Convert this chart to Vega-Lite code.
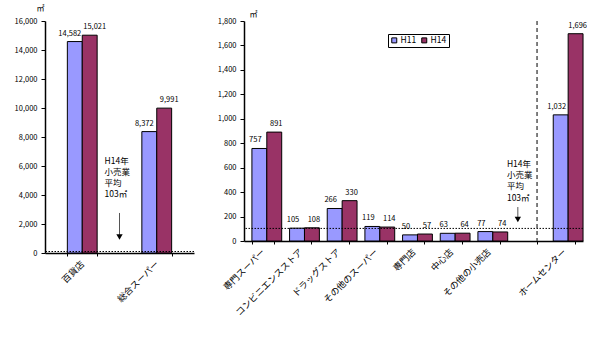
{
  "$schema": "https://vega.github.io/schema/vega-lite/v6.json",
  "padding": {"left": 14, "top": 4, "right": 0, "bottom": 0},
  "background": "white",
  "spacing": 19,
  "config": {
    "view": {"stroke": null},
    "font": "Noto Sans CJK JP",
    "axis": {"domainColor": "black", "tickColor": "black", "labelColor": "black", "grid": false, "labelFont": "Noto Sans CJK JP"},
    "text": {"font": "Noto Sans CJK JP", "color": "black"}
  },
  "datasets": {
    "left": [
      {"cat": "百貨店", "year": "H11", "value": 14582},
      {"cat": "百貨店", "year": "H14", "value": 15021},
      {"cat": "総合スーパー", "year": "H11", "value": 8372},
      {"cat": "総合スーパー", "year": "H14", "value": 9991}
    ],
    "right": [
      {"cat": "専門スーパー", "year": "H11", "value": 757},
      {"cat": "専門スーパー", "year": "H14", "value": 891},
      {"cat": "コンビニエンスストア", "year": "H11", "value": 105},
      {"cat": "コンビニエンスストア", "year": "H14", "value": 108},
      {"cat": "ドラッグストア", "year": "H11", "value": 266},
      {"cat": "ドラッグストア", "year": "H14", "value": 330},
      {"cat": "その他のスーパー", "year": "H11", "value": 119},
      {"cat": "その他のスーパー", "year": "H14", "value": 114},
      {"cat": "専門店", "year": "H11", "value": 50},
      {"cat": "専門店", "year": "H14", "value": 57},
      {"cat": "中心店", "year": "H11", "value": 63},
      {"cat": "中心店", "year": "H14", "value": 64},
      {"cat": "その他の小売店", "year": "H11", "value": 77},
      {"cat": "その他の小売店", "year": "H14", "value": 74},
      {"cat": "ホームセンター", "year": "H11", "value": 1032},
      {"cat": "ホームセンター", "year": "H14", "value": 1696}
    ],
    "leftNote": [{"x": 0.8, "value": 6620, "text": "H14年\n小売業\n平均\n103㎡"}],
    "leftArrow": [{"x": 1.0, "value": 2760, "y2": 1250, "tip": 1100}],
    "rightNote": [{"x": 6.98, "value": 665, "text": "H14年\n小売業\n平均\n103㎡"}],
    "rightArrow": [{"x": 7.27, "value": 278, "y2": 190, "tip": 175}],
    "rightDivider": [{"x": 7.78}],
    "avg": [{"value": 103}]
  },
  "hconcat": [
    {
      "width": 149,
      "height": 232,
      "layer": [
        {
          "data": {"name": "left"},
          "layer": [
            {
              "mark": {"type": "bar", "stroke": "black", "strokeWidth": 1},
              "encoding": {
                "x": {"field": "cat", "type": "nominal", "sort": null, "scale": {"domain": ["百貨店", "総合スーパー"], "paddingInner": 0.6, "paddingOuter": 0.3},
                  "axis": {"title": null, "labelAngle": -45, "labelAlign": "right", "labelBaseline": "middle", "labelFontSize": 9, "labelPadding": 6, "tickBand": "extent", "tickSize": 3, "domainWidth": 1.5}},
                "xOffset": {"field": "year", "type": "nominal", "scale": {"domain": ["H11", "H14"], "paddingInner": 0, "paddingOuter": 0}},
                "y": {"field": "value", "type": "quantitative", "scale": {"domain": [0, 16000]},
                  "axis": {"values": [0, 2000, 4000, 6000, 8000, 10000, 12000, 14000, 16000], "format": ",.0f", "labelFontSize": 7.5, "tickSize": 4, "labelPadding": 4, "domainWidth": 1.5, "minExtent": 30, "maxExtent": 30, "title": "㎡", "titleAngle": 0, "titleX": -5, "titleY": -9, "titleFontSize": 8, "titleFontWeight": "normal", "titleAlign": "center", "titleBaseline": "bottom"}},
                "color": {"field": "year", "type": "nominal", "scale": {"domain": ["H11", "H14"], "range": ["#9999FF", "#993366"]},
                  "legend": {"orient": "none", "legendX": 343, "legendY": 13, "direction": "horizontal", "title": null, "strokeColor": "black", "padding": 2, "symbolType": "square", "symbolSize": 25, "symbolStrokeColor": "black", "symbolStrokeWidth": 1, "labelFontSize": 8.5, "labelFont": "Noto Sans CJK JP", "labelOffset": 2, "columnPadding": 2, "symbolOpacity": 1}}
              }
            },
            {
              "transform": [{"filter": "datum.year == 'H11'"}],
              "mark": {"type": "text", "baseline": "bottom", "dy": -4, "dx": -5, "fontSize": 7.5, "color": "black"},
              "encoding": {
                "x": {"field": "cat", "type": "nominal", "sort": null, "scale": {"domain": ["百貨店", "総合スーパー"], "paddingInner": 0.6, "paddingOuter": 0.3}},
                "xOffset": {"field": "year", "type": "nominal", "scale": {"domain": ["H11", "H14"], "paddingInner": 0, "paddingOuter": 0}},
                "y": {"field": "value", "type": "quantitative",
                  "axis": {"values": [0, 2000, 4000, 6000, 8000, 10000, 12000, 14000, 16000], "format": ",.0f", "labelFontSize": 7.5, "tickSize": 4, "labelPadding": 4, "domainWidth": 1.5, "minExtent": 30, "maxExtent": 30, "title": "㎡", "titleAngle": 0, "titleX": -5, "titleY": -9, "titleFontSize": 8, "titleFontWeight": "normal", "titleAlign": "center", "titleBaseline": "bottom"}},
                "text": {"field": "value", "type": "quantitative", "format": ","}
              }
            },
            {
              "transform": [{"filter": "datum.year == 'H14'"}],
              "mark": {"type": "text", "baseline": "bottom", "dy": -4, "dx": 5, "fontSize": 7.5, "color": "black"},
              "encoding": {
                "x": {"field": "cat", "type": "nominal", "sort": null, "scale": {"domain": ["百貨店", "総合スーパー"], "paddingInner": 0.6, "paddingOuter": 0.3}},
                "xOffset": {"field": "year", "type": "nominal", "scale": {"domain": ["H11", "H14"], "paddingInner": 0, "paddingOuter": 0}},
                "y": {"field": "value", "type": "quantitative",
                  "axis": {"values": [0, 2000, 4000, 6000, 8000, 10000, 12000, 14000, 16000], "format": ",.0f", "labelFontSize": 7.5, "tickSize": 4, "labelPadding": 4, "domainWidth": 1.5, "minExtent": 30, "maxExtent": 30, "title": "㎡", "titleAngle": 0, "titleX": -5, "titleY": -9, "titleFontSize": 8, "titleFontWeight": "normal", "titleAlign": "center", "titleBaseline": "bottom"}},
                "text": {"field": "value", "type": "quantitative", "format": ","}
              }
            }
          ]
        },
        {
          "layer": [
            {
              "data": {"name": "avg"},
              "mark": {"type": "rule", "color": "black", "strokeDash": [1.5, 1.5], "strokeWidth": 1},
              "encoding": {"y": {"field": "value", "type": "quantitative", "axis": null}}
            },
            {
              "data": {"name": "leftNote"},
              "mark": {"type": "text", "align": "left", "baseline": "top", "lineBreak": "\n", "lineHeight": 11, "fontSize": 8.5, "color": "black"},
              "encoding": {
                "x": {"field": "x", "type": "quantitative", "scale": {"domain": [0, 2]}, "axis": null},
                "y": {"field": "value", "type": "quantitative", "axis": null},
                "text": {"field": "text"}
              }
            },
            {
              "data": {"name": "leftArrow"},
              "mark": {"type": "rule", "color": "#555555", "strokeWidth": 1},
              "encoding": {
                "x": {"field": "x", "type": "quantitative", "scale": {"domain": [0, 2]}, "axis": null},
                "y": {"field": "value", "type": "quantitative", "axis": null},
                "y2": {"field": "y2"}
              }
            },
            {
              "data": {"name": "leftArrow"},
              "mark": {"type": "point", "shape": "triangle-down", "filled": true, "color": "black", "size": 40, "opacity": 1},
              "encoding": {
                "x": {"field": "x", "type": "quantitative", "scale": {"domain": [0, 2]}, "axis": null},
                "y": {"field": "tip", "type": "quantitative", "axis": null}
              }
            }
          ]
        }
      ],
      "resolve": {"scale": {"x": "independent"}, "axis": {"y": "independent"}}
    },
    {
      "width": 339,
      "height": 220,
      "layer": [
        {
          "data": {"name": "right"},
          "layer": [
            {
              "mark": {"type": "bar", "stroke": "black", "strokeWidth": 1},
              "encoding": {
                "x": {"field": "cat", "type": "nominal", "sort": null, "scale": {"domain": ["専門スーパー", "コンビニエンスストア", "ドラッグストア", "その他のスーパー", "専門店", "中心店", "その他の小売店", " ", "ホームセンター"], "paddingInner": 0.42, "paddingOuter": 0.21},
                  "axis": {"title": null, "labelAngle": -45, "labelAlign": "right", "labelBaseline": "middle", "labelFontSize": 9, "labelPadding": 6, "tickBand": "extent", "tickSize": 3, "domainWidth": 1.5}},
                "xOffset": {"field": "year", "type": "nominal", "scale": {"domain": ["H11", "H14"], "paddingInner": 0, "paddingOuter": 0.35}},
                "y": {"field": "value", "type": "quantitative", "scale": {"domain": [0, 1800]},
                  "axis": {"values": [0, 200, 400, 600, 800, 1000, 1200, 1400, 1600, 1800], "format": ",.0f", "labelFontSize": 7.5, "tickSize": 4, "labelPadding": 4, "domainWidth": 1.5, "minExtent": 30, "maxExtent": 30, "title": "㎡", "titleAngle": 0, "titleX": 9, "titleY": -3, "titleFontSize": 8, "titleFontWeight": "normal", "titleAlign": "center", "titleBaseline": "bottom"}},
                "color": {"field": "year", "type": "nominal"}
              }
            },
            {
              "transform": [{"filter": "datum.year == 'H11'"}],
              "mark": {"type": "text", "baseline": "bottom", "dy": -4, "dx": -4, "fontSize": 7.5, "color": "black"},
              "encoding": {
                "x": {"field": "cat", "type": "nominal", "sort": null, "scale": {"domain": ["専門スーパー", "コンビニエンスストア", "ドラッグストア", "その他のスーパー", "専門店", "中心店", "その他の小売店", " ", "ホームセンター"], "paddingInner": 0.42, "paddingOuter": 0.21}},
                "xOffset": {"field": "year", "type": "nominal", "scale": {"domain": ["H11", "H14"], "paddingInner": 0, "paddingOuter": 0.35}},
                "y": {"field": "value", "type": "quantitative",
                  "axis": {"values": [0, 200, 400, 600, 800, 1000, 1200, 1400, 1600, 1800], "format": ",.0f", "labelFontSize": 7.5, "tickSize": 4, "labelPadding": 4, "domainWidth": 1.5, "minExtent": 30, "maxExtent": 30, "title": "㎡", "titleAngle": 0, "titleX": 9, "titleY": -3, "titleFontSize": 8, "titleFontWeight": "normal", "titleAlign": "center", "titleBaseline": "bottom"}},
                "text": {"field": "value", "type": "quantitative", "format": ","}
              }
            },
            {
              "transform": [{"filter": "datum.year == 'H14'"}],
              "mark": {"type": "text", "baseline": "bottom", "dy": -4, "dx": 2, "fontSize": 7.5, "color": "black"},
              "encoding": {
                "x": {"field": "cat", "type": "nominal", "sort": null, "scale": {"domain": ["専門スーパー", "コンビニエンスストア", "ドラッグストア", "その他のスーパー", "専門店", "中心店", "その他の小売店", " ", "ホームセンター"], "paddingInner": 0.42, "paddingOuter": 0.21}},
                "xOffset": {"field": "year", "type": "nominal", "scale": {"domain": ["H11", "H14"], "paddingInner": 0, "paddingOuter": 0.35}},
                "y": {"field": "value", "type": "quantitative",
                  "axis": {"values": [0, 200, 400, 600, 800, 1000, 1200, 1400, 1600, 1800], "format": ",.0f", "labelFontSize": 7.5, "tickSize": 4, "labelPadding": 4, "domainWidth": 1.5, "minExtent": 30, "maxExtent": 30, "title": "㎡", "titleAngle": 0, "titleX": 9, "titleY": -3, "titleFontSize": 8, "titleFontWeight": "normal", "titleAlign": "center", "titleBaseline": "bottom"}},
                "text": {"field": "value", "type": "quantitative", "format": ","}
              }
            }
          ]
        },
        {
          "layer": [
            {
              "data": {"name": "avg"},
              "mark": {"type": "rule", "color": "black", "strokeDash": [1.5, 1.5], "strokeWidth": 1},
              "encoding": {"y": {"field": "value", "type": "quantitative", "axis": null}}
            },
            {
              "data": {"name": "rightDivider"},
              "mark": {"type": "rule", "color": "#555555", "strokeDash": [4, 3], "strokeWidth": 1.5},
              "encoding": {
                "x": {"field": "x", "type": "quantitative", "scale": {"domain": [0, 9]}, "axis": null}
              }
            },
            {
              "data": {"name": "rightNote"},
              "mark": {"type": "text", "align": "left", "baseline": "top", "lineBreak": "\n", "lineHeight": 11.3, "fontSize": 8.5, "color": "black"},
              "encoding": {
                "x": {"field": "x", "type": "quantitative", "scale": {"domain": [0, 9]}, "axis": null},
                "y": {"field": "value", "type": "quantitative", "axis": null},
                "text": {"field": "text"}
              }
            },
            {
              "data": {"name": "rightArrow"},
              "mark": {"type": "rule", "color": "#555555", "strokeWidth": 1},
              "encoding": {
                "x": {"field": "x", "type": "quantitative", "scale": {"domain": [0, 9]}, "axis": null},
                "y": {"field": "value", "type": "quantitative", "axis": null},
                "y2": {"field": "y2"}
              }
            },
            {
              "data": {"name": "rightArrow"},
              "mark": {"type": "point", "shape": "triangle-down", "filled": true, "color": "black", "size": 40, "opacity": 1},
              "encoding": {
                "x": {"field": "x", "type": "quantitative", "scale": {"domain": [0, 9]}, "axis": null},
                "y": {"field": "tip", "type": "quantitative", "axis": null}
              }
            }
          ]
        }
      ],
      "resolve": {"scale": {"x": "independent"}, "axis": {"y": "independent"}}
    }
  ]
}
